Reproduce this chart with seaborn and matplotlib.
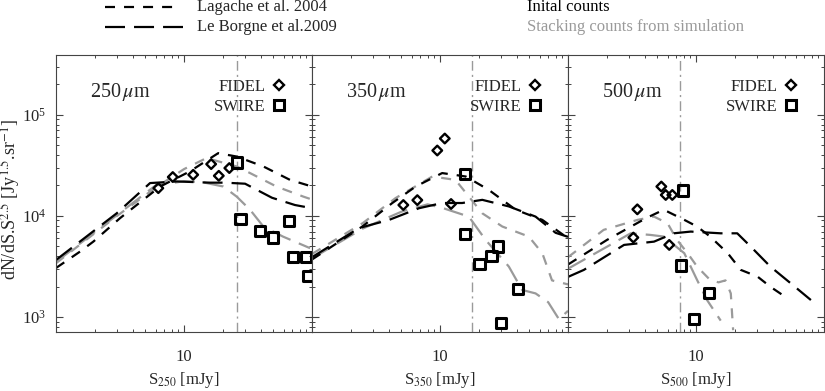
import numpy as np
import pandas as pd
import matplotlib
matplotlib.use("Agg")
import matplotlib.pyplot as plt
import seaborn as sns
from matplotlib.lines import Line2D
from matplotlib.ticker import FixedLocator, NullFormatter, FixedFormatter

# ---------------- data ----------------
bands = ["250", "350", "500"]
cut_flux = [25.8, 17.9, 7.46]

# 250 micron
lag_init_250_s = [1.0, 1.54, 1.96, 3.16, 6.5, 11.1, 18.5, 25.8, 41.7, 67.3, 100]
lag_init_250_n = [3050, 4430, 5570, 9480, 19500, 27500, 41700, 38600, 30800, 22700, 19500]
lb_init_250_s = [1.0, 2.98, 5.43, 8.8, 15.9, 20.9, 30.0, 48.7, 73.6, 100]
lb_init_250_n = [3660, 10600, 21100, 21900, 21300, 21300, 20800, 15100, 12800, 11900]
lag_stack_250_s = [1.0, 3.0, 6.0, 10.0, 15.0, 25.8, 32.8, 52.8, 85.6, 100]
lag_stack_250_n = [3400, 10000, 19000, 29000, 37300, 30800, 26500, 19500, 15500, 14500]
lb_stack_250_s = [1.0, 3.0, 6.0, 10.0, 14.0, 20.3, 25.8, 32.8, 41.7, 59.3, 96.6]
lb_stack_250_n = [3500, 10200, 20000, 22000, 21500, 19500, 15500, 11500, 7840, 6240, 4790]
fidel_250_s = [6.3, 8.17, 11.8, 16.3, 18.7, 22.6]
fidel_250_n = [18800, 24200, 25500, 32500, 24900, 29700]
swire_250_s = [26.1, 27.7, 39.2, 49.3, 66.5, 71.4, 89.8, 92.5]
swire_250_n = [33700, 9340, 7100, 6100, 8920, 3900, 3900, 2560]

# 350 micron
lag_init_350_s = [1.0, 2.47, 4.24, 6.45, 10.4, 15.9, 24.0, 39.0, 63.0, 100]
lag_init_350_n = [3700, 7840, 13400, 19500, 26500, 24500, 18100, 11500, 9120, 6000]
lb_init_350_s = [1.0, 2.33, 4.0, 6.85, 10.4, 14.9, 21.4, 34.5, 55.8, 80.0, 100]
lb_init_350_n = [3900, 7580, 9120, 11900, 13400, 13400, 14400, 12400, 9830, 6800, 6200]
lag_stack_350_s = [1.0, 2.5, 4.5, 8.7, 13.2, 21.4, 30.7, 49.4, 63.0, 75.0, 100]
lag_stack_350_n = [4200, 8500, 15000, 24500, 22700, 10600, 7840, 6240, 4270, 2300, 2100]
lb_stack_350_s = [1.0, 2.5, 5.0, 8.0, 10.4, 16.8, 22.7, 34.5, 43.8, 55.8, 70.0, 85.0, 100]
lb_stack_350_n = [3800, 7500, 11000, 13000, 12000, 9830, 5790, 3150, 1850, 1710, 1400, 950, 1150]
fidel_350_s = [5.17, 6.65, 9.52, 10.9, 12.2]
fidel_350_n = [12800, 14300, 44300, 58200, 13100]
swire_350_s = [15.7, 15.7, 20.4, 25.3, 28.5, 40.9, 30.1]
swire_350_n = [26100, 6640, 3320, 4040, 4970, 1880, 866]

# 500 micron
lag_init_500_s = [1.0, 2.02, 4.1, 5.6, 8.1, 10.2, 12.9, 17.7, 22.4, 30.2, 38.1, 53.0]
lag_init_500_n = [3300, 5790, 9530, 11500, 9130, 7840, 6240, 4270, 2920, 2510, 1990, 1500]
lb_init_500_s = [1.0, 1.33, 2.74, 4.7, 6.7, 9.1, 15.6, 21.0, 26.7, 38.1, 55.0, 79.0]
lb_init_500_n = [2490, 2920, 5160, 5560, 6720, 6990, 6720, 6720, 4980, 3150, 2150, 1470]
lag_stack_500_s = [1.0, 1.9, 3.5, 4.7, 6.0, 7.1, 8.6, 10.2, 12.9, 15.0, 17.0, 18.7, 19.5]
lag_stack_500_n = [3900, 7270, 9130, 9830, 8440, 5790, 4270, 3150, 2320, 2200, 2300, 1710, 740]
lb_stack_500_s = [1.0, 3.09, 4.4, 5.6, 8.1, 10.2, 12.2, 15.6]
lb_stack_500_n = [3000, 6720, 6480, 6240, 4270, 2320, 1470, 920]
fidel_500_s = [3.48, 5.36, 5.80, 6.53, 3.24, 6.18]
fidel_500_n = [11600, 19500, 16100, 16100, 6100, 5160]
swire_500_s = [7.96, 7.68, 12.6, 9.64]
swire_500_n = [17800, 3220, 1720, 949]

x_tick_labels = ["10"]
legend_models = ["Lagache et al. 2004", "Le Borgne et al.2009"]
legend_kinds = ["Inital counts", "Stacking counts from simulation"]

panels = {
    "250": dict(lag_i=(lag_init_250_s, lag_init_250_n), lb_i=(lb_init_250_s, lb_init_250_n),
                lag_s=(lag_stack_250_s, lag_stack_250_n), lb_s=(lb_stack_250_s, lb_stack_250_n),
                fidel=(fidel_250_s, fidel_250_n), swire=(swire_250_s, swire_250_n)),
    "350": dict(lag_i=(lag_init_350_s, lag_init_350_n), lb_i=(lb_init_350_s, lb_init_350_n),
                lag_s=(lag_stack_350_s, lag_stack_350_n), lb_s=(lb_stack_350_s, lb_stack_350_n),
                fidel=(fidel_350_s, fidel_350_n), swire=(swire_350_s, swire_350_n)),
    "500": dict(lag_i=(lag_init_500_s, lag_init_500_n), lb_i=(lb_init_500_s, lb_init_500_n),
                lag_s=(lag_stack_500_s, lag_stack_500_n), lb_s=(lb_stack_500_s, lb_stack_500_n),
                fidel=(fidel_500_s, fidel_500_n), swire=(swire_500_s, swire_500_n)),
}

# ---------------- style ----------------
sns.set_theme(style="ticks")
plt.rcParams["font.family"] = ["Liberation Serif", "DejaVu Serif"]
plt.rcParams["mathtext.fontset"] = "stix"
plt.rcParams["lines.scale_dashes"] = False

GREY = "#9a9a9a"
SHORT = (0, (7.2, 6.5))
LONG = (0, (14.4, 6.5))
DASHDOT = (0, (7, 3, 1.5, 3))
FS = 12

W, H = 825, 391
fig = plt.figure(figsize=(W / 100, H / 100), dpi=100)

minor_x = [2, 3, 4, 5, 6, 7, 8, 9, 20, 30, 40, 50, 60, 70, 80, 90]
minor_y = [m * 10 ** e for e in (2, 3, 4, 5) for m in range(2, 10)]

for i, (band, left) in enumerate(zip(bands, [56, 312, 568])):
    ax = fig.add_axes([left / W, (H - 332) / H, 256 / W, (332 - 55) / H])
    ax.set_xscale("log")
    ax.set_yscale("log")
    ax.set_xlim(1, 100)
    ax.set_ylim(710, 3.9e5)
    d = panels[band]

    for key, col, ls in [("lag_s", GREY, SHORT), ("lb_s", GREY, LONG),
                         ("lag_i", "black", SHORT), ("lb_i", "black", LONG)]:
        s, n = d[key]
        sns.lineplot(x=s, y=n, ax=ax, color=col, linewidth=1.6, linestyle=ls,
                     estimator=None, sort=False, legend=False)

    ax.axvline(cut_flux[i], color=GREY, linewidth=1.0, linestyle=DASHDOT, zorder=1)

    s, n = d["fidel"]
    sns.scatterplot(x=s, y=n, ax=ax, marker="D", s=24, color="black",
                    facecolor="none", edgecolor="black", linewidth=1.7, legend=False, zorder=5)
    s, n = d["swire"]
    sns.scatterplot(x=s, y=n, ax=ax, marker="s", s=55, color="black",
                    facecolor="none", edgecolor="black", linewidth=2.2, legend=False, zorder=5)

    # ticks
    ax.xaxis.set_major_locator(FixedLocator([10]))
    ax.xaxis.set_major_formatter(FixedFormatter(x_tick_labels))
    ax.xaxis.set_minor_locator(FixedLocator(minor_x))
    ax.xaxis.set_minor_formatter(NullFormatter())
    ax.yaxis.set_major_locator(FixedLocator([1e3, 1e4, 1e5]))
    ax.yaxis.set_minor_locator(FixedLocator(minor_y))
    ax.yaxis.set_minor_formatter(NullFormatter())
    if i > 0:
        ax.yaxis.set_major_formatter(NullFormatter())
    ax.tick_params(which="both", direction="in", top=True, right=True,
                   color="#444444", labelsize=FS)
    ax.tick_params(which="major", length=5, width=0.8)
    ax.tick_params(which="minor", length=2.5, width=0.7)
    ax.tick_params(axis="x", which="major", pad=12)
    ax.tick_params(axis="y", which="major", pad=7)
    for sp in ax.spines.values():
        sp.set_linewidth(0.8)
        sp.set_color("#444444")

    ax.set_xlabel(r"S$_{" + band + r"}$ [mJy]", fontsize=FS, labelpad=4)

    ax.text(0.132, 0.866, band + r"$\,\mu$m", transform=ax.transAxes,
            fontsize=14.5, va="center", ha="left")

    handles = [Line2D([], [], marker="D", ls="", mfc="none", mec="black", ms=5.2, mew=1.7),
               Line2D([], [], marker="s", ls="", mfc="none", mec="black", ms=7.6, mew=2.2)]
    ax.legend(handles, ["FIDEL", "SWIRE"], loc="upper right", bbox_to_anchor=(0.905, 0.915),
              markerfirst=False, frameon=False, fontsize=FS, handlelength=1.0,
              handletextpad=0.35, labelspacing=0.25, borderaxespad=0, borderpad=0)

# y label placed in figure space so it is not clipped
fig.text(10.5 / W, 1 - 200 / H, r"dN/dS.S$^{2.5}$ [Jy$^{1.5}$.sr$^{-1}$]", fontsize=13,
         rotation=90, va="center", ha="center")

# top legend
fig.add_artist(Line2D([105 / W, 173 / W], [1 - 7 / H] * 2, transform=fig.transFigure,
                      color="black", lw=1.6, ls=SHORT))
fig.add_artist(Line2D([105 / W, 183 / W], [1 - 27 / H] * 2, transform=fig.transFigure,
                      color="black", lw=1.6, ls=LONG))
fig.text(197 / W, 1 - 7 / H, legend_models[0], fontsize=FS, va="center", ha="left")
fig.text(197 / W, 1 - 27 / H, legend_models[1], fontsize=FS, va="center", ha="left")
fig.text(527 / W, 1 - 7 / H, legend_kinds[0], fontsize=FS, va="center", ha="left", color="black")
fig.text(527 / W, 1 - 27 / H, legend_kinds[1], fontsize=FS, va="center", ha="left", color=GREY)

fig.savefig("out.png", dpi=100)
